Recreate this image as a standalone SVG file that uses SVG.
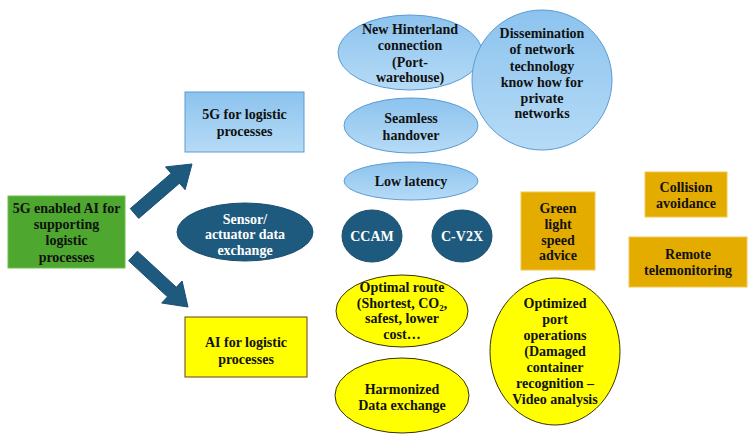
<svg xmlns="http://www.w3.org/2000/svg" width="754" height="442" viewBox="0 0 754 442">
<defs>
<linearGradient id="lb" x1="0" y1="0" x2="0" y2="1">
<stop offset="0" stop-color="#8cc3ee"/>
<stop offset="1" stop-color="#b6dbf6"/>
</linearGradient>
<style>
text{font-family:"Liberation Serif","Times New Roman",serif;font-weight:bold;font-size:14px;text-anchor:middle;fill:#111}
.w{fill:#fff}
.lb{fill:url(#lb);stroke:#5b9bd5;stroke-width:1}
.db{fill:#1e5a7e;stroke:#1a4f70;stroke-width:1}
.yl{fill:#ffff00;stroke:#3a3000;stroke-width:1}
.yb{fill:#ffff00;stroke:#6b3e1e;stroke-width:1}
.am{fill:#e5ac00;stroke:#f0c850;stroke-width:1}
.gr{fill:#4ea72e;stroke:#6fbf4f;stroke-width:1}
</style>
</defs>
<g id="connectors">
<polygon class="db" points="130.3,208.6 171.1,173.4 165.5,166.9 192,164 185.1,189.7 179.5,183.2 138.7,218.4"/>
<polygon class="db" points="137.4,251.2 176.3,287.2 182.1,281.0 188,307 161.7,303.0 167.5,296.8 128.6,260.8"/>
</g>
<g id="root">
<rect class="gr" x="8" y="196" width="117" height="72"/>
<text x="66.5" y="213">5G enabled AI for</text>
<text x="66.5" y="229">supporting</text>
<text x="66.5" y="245">logistic</text>
<text x="66.5" y="262">processes</text>
</g>
<g id="fg">
<rect class="lb" x="185" y="92" width="119" height="60"/>
<text x="244.5" y="119">5G for logistic</text>
<text x="244.5" y="136">processes</text>
</g>
<g id="ai">
<rect class="yb" x="185" y="317" width="122" height="60"/>
<text x="246" y="347">AI for logistic</text>
<text x="246" y="364">processes</text>
</g>
<g id="hinterland">
<ellipse class="lb" cx="410" cy="52.5" rx="72" ry="37.5"/>
<text x="410" y="34">New Hinterland</text>
<text x="410" y="50">connection</text>
<text x="410" y="67">(Port-</text>
<text x="410" y="82">warehouse)</text>
</g>
<g id="dissemination">
<circle class="lb" cx="542" cy="80" r="70"/>
<text x="542" y="38">Dissemination</text>
<text x="542" y="54">of network</text>
<text x="542" y="71">technology</text>
<text x="542" y="87">know how for</text>
<text x="542" y="103">private</text>
<text x="542" y="118">networks</text>
</g>
<g id="seamless">
<ellipse class="lb" cx="411" cy="125.5" rx="67" ry="27.5"/>
<text x="411" y="123">Seamless</text>
<text x="411" y="140">handover</text>
</g>
<g id="latency">
<ellipse class="lb" cx="411" cy="181" rx="67" ry="19"/>
<text x="411" y="186">Low latency</text>
</g>
<g id="sensor">
<ellipse class="db" cx="245" cy="232" rx="68" ry="29"/>
<text class="w" x="245" y="224">Sensor/</text>
<text class="w" x="245" y="239">actuator data</text>
<text class="w" x="245" y="255">exchange</text>
</g>
<g id="ccam">
<ellipse class="db" cx="372" cy="236" rx="30" ry="26"/>
<text class="w" x="372" y="241">CCAM</text>
</g>
<g id="cv2x">
<ellipse class="db" cx="462" cy="236" rx="30" ry="26"/>
<text class="w" x="462" y="241">C-V2X</text>
</g>
<g id="green-light">
<rect class="am" x="521" y="192" width="74" height="78"/>
<text x="558" y="213">Green</text>
<text x="558" y="229">light</text>
<text x="558" y="245">speed</text>
<text x="558" y="260">advice</text>
</g>
<g id="collision">
<rect class="am" x="645" y="172" width="82" height="45"/>
<text x="686" y="192">Collision</text>
<text x="686" y="208">avoidance</text>
</g>
<g id="remote">
<rect class="am" x="629" y="237" width="118" height="50"/>
<text x="688" y="259">Remote</text>
<text x="688" y="275">telemonitoring</text>
</g>
<g id="optimal-route">
<ellipse class="yl" cx="402" cy="311" rx="66" ry="36"/>
<text x="402" y="292">Optimal route</text>
<text x="402" y="308">(Shortest, CO<tspan font-size="9" dy="3">2</tspan><tspan dy="-3">,</tspan></text>
<text x="402" y="323">safest, lower</text>
<text x="402" y="339">cost…</text>
</g>
<g id="harmonized">
<ellipse class="yl" cx="402" cy="395.5" rx="67" ry="37.5"/>
<text x="402" y="394">Harmonized</text>
<text x="402" y="410">Data exchange</text>
</g>
<g id="port-ops">
<ellipse class="yl" cx="555" cy="351.5" rx="65" ry="73.5"/>
<text x="555" y="308">Optimized</text>
<text x="555" y="324">port</text>
<text x="555" y="340">operations</text>
<text x="555" y="356">(Damaged</text>
<text x="555" y="372">container</text>
<text x="555" y="388">recognition –</text>
<text x="555" y="404">Video analysis</text>
</g>
</svg>
